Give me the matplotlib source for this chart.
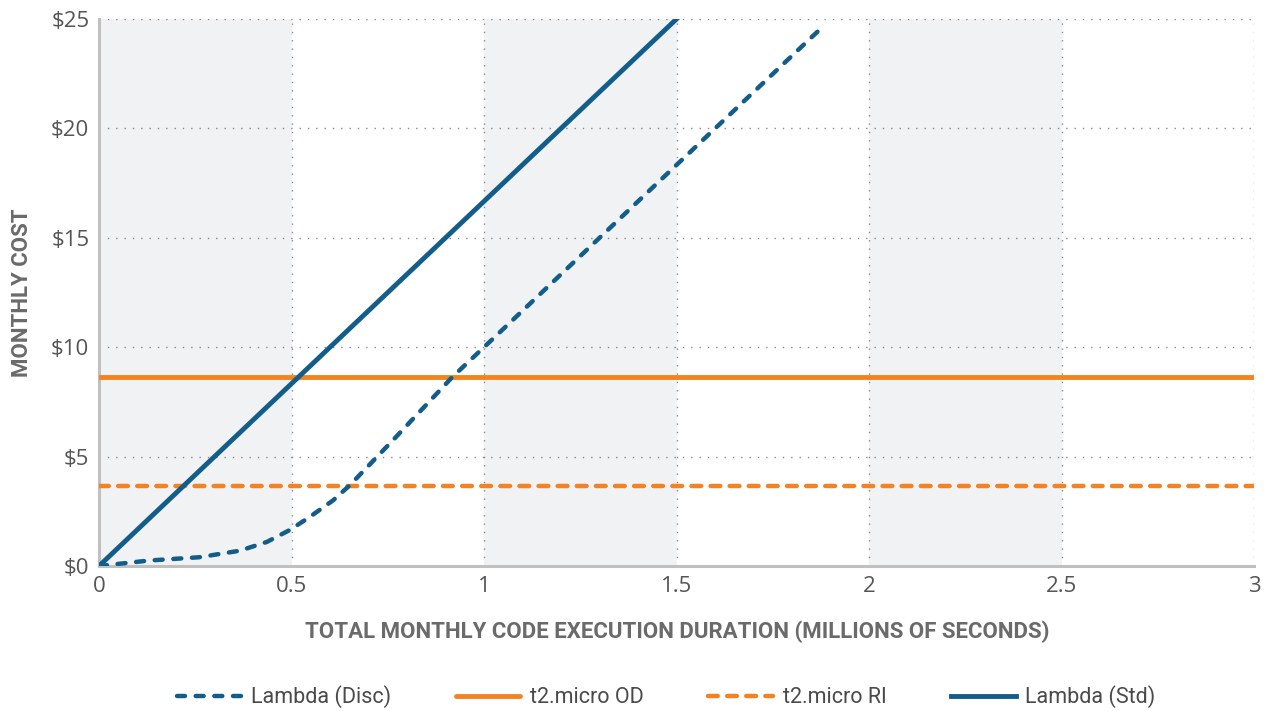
import matplotlib
matplotlib.use("Agg")
import matplotlib.pyplot as plt

# ---- data ----
disc_x = [0, 0.13, 0.26, 0.366, 0.436, 0.496, 0.548, 0.608, 0.652, 0.764, 0.918, 1.0, 1.5, 1.886]
disc_y = [0, 0.25, 0.4, 0.7, 1.1, 1.65, 2.25, 3.0, 3.7, 5.76, 8.64, 10.0, 18.33, 24.75]
std_x = [0, 1.5]
std_y = [0, 25]
od_x = [0, 3]
od_y = [8.64, 8.64]
ri_x = [0, 3]
ri_y = [3.65, 3.65]
band_starts = [0, 1, 2]
band_width = 0.5
x_ticks = [0, 0.5, 1, 1.5, 2, 2.5, 3]
x_tick_labels = ["0", "0.5", "1", "1.5", "2", "2.5", "3"]
y_ticks = [0, 5, 10, 15, 20, 25]
y_tick_labels = ["$0", "$5", "$10", "$15", "$20", "$25"]

BLUE = "#135d8a"
ORANGE = "#f58220"
TXT = "#555555"

fig = plt.figure(figsize=(12.64, 7.11), dpi=100)
ax = fig.add_axes([99/1264, 1-566/711, (1254-99)/1264, (566-19)/711])

for b in band_starts:
    ax.axvspan(b, b + band_width, color="#f1f2f4", zorder=0, lw=0)

ax.plot(disc_x, disc_y, color=BLUE, lw=3.2, linestyle=(0, (1.8, 2.4)),
        dash_capstyle="round", label="Lambda (Disc)", zorder=4)
ax.plot(od_x, od_y, color=ORANGE, lw=3.5, label="t2.micro OD", zorder=3,
        solid_capstyle="round")
ax.plot(ri_x, ri_y, color=ORANGE, lw=3.2, linestyle=(0, (2.2, 2.1)),
        dash_capstyle="round", label="t2.micro RI", zorder=3)
ax.plot(std_x, std_y, color=BLUE, lw=3.5, label="Lambda (Std)", zorder=5)

ax.set_xlim(0, 3)
ax.set_ylim(0, 25)
ax.set_xticks(x_ticks)
ax.set_xticklabels(x_tick_labels)
ax.set_yticks(y_ticks)
ax.set_yticklabels(y_tick_labels)

ax.grid(True, color="#8a8a8a", linestyle=(0, (1, 5)), lw=1.0, zorder=1)
for s in ["top", "right"]:
    ax.spines[s].set_visible(False)
for s in ["left", "bottom"]:
    ax.spines[s].set_color("#c0c0c0")
    ax.spines[s].set_linewidth(2.2)
    ax.spines[s].set_zorder(2)
ax.tick_params(length=0, labelsize=16, labelcolor=TXT, pad=7)
for lab in ax.get_xticklabels() + ax.get_yticklabels():
    lab.set_family(["Open Sans", "DejaVu Sans"])

ax.set_xlabel("TOTAL MONTHLY CODE EXECUTION DURATION (MILLIONS OF SECONDS)",
              fontsize=16, fontweight="bold", color="#6a6a6a",
              family=["Roboto", "DejaVu Sans"])
ax.xaxis.set_label_coords(0.501, -0.1)
ax.set_ylabel("MONTHLY COST", fontsize=16, fontweight="bold", color="#6a6a6a",
              family=["Roboto", "DejaVu Sans"])
ax.yaxis.set_label_coords(-0.057, 0.5)

leg = fig.legend(loc="center", bbox_to_anchor=(0.527, 1-697/711), ncol=4,
                 frameon=False, handlelength=3.0,
                 columnspacing=3.0, handletextpad=0.45,
                 prop={"family": ["Roboto", "DejaVu Sans"], "size": 15.5})
for t in leg.get_texts():
    t.set_color("#4a4a4a")

fig.savefig("out.png", dpi=100)
